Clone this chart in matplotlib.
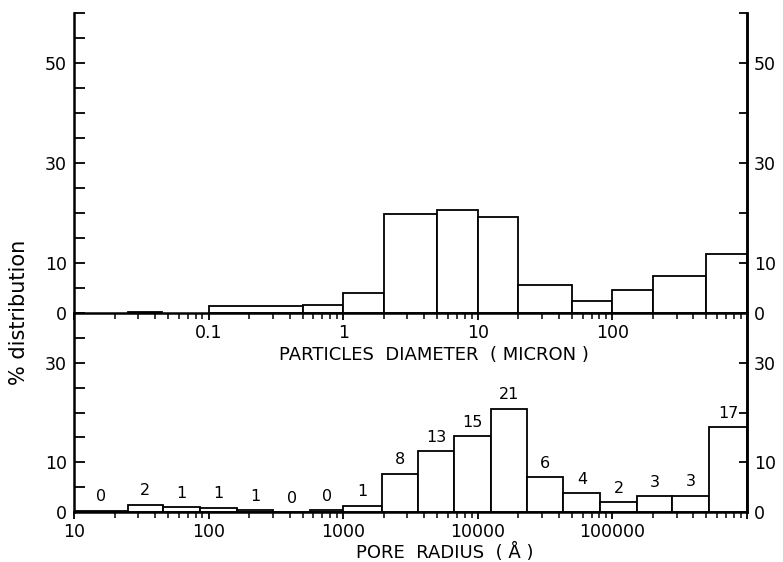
import matplotlib
matplotlib.use("Agg")
import matplotlib.pyplot as plt
from matplotlib.ticker import LogLocator, NullFormatter, FixedLocator, FixedFormatter

# ---- data: particle diameter distribution (top panel) ----
particle_left = [0.025, 0.1, 0.5, 1, 2, 5, 10, 20, 50, 100, 200, 500]
particle_right = [0.045, 0.5, 1, 2, 5, 10, 20, 50, 100, 200, 500, 1000]
particle_pct = [0.3, 1.4, 1.6, 4.0, 19.9, 20.7, 19.3, 5.6, 2.4, 4.6, 7.5, 11.8]

# ---- data: pore radius distribution (bottom panel) ----
pore_edges = [10, 25, 46, 86, 163, 302, 569, 1000, 1950, 3610, 6680, 12590,
              23300, 43200, 81500, 153000, 279000, 526000, 1000000]
pore_pct = [0.3, 1.5, 1.0, 0.9, 0.35, 0.0, 0.35, 1.3, 7.7, 12.3, 15.2, 20.8,
            7.0, 3.8, 2.0, 3.2, 3.3, 17.1]
pore_labels = ["0", "2", "1", "1", "1", "0", "0", "1", "8", "13", "15", "21",
               "6", "4", "2", "3", "3", "17"]

top_ticklabels = ["0.1", "1", "10", "100"]
top_ticks = [0.1, 1, 10, 100]
bottom_ticklabels = ["10", "100", "1000", "10000", "100000"]
bottom_ticks = [10, 100, 1000, 10000, 100000]

plt.rcParams['font.family'] = ['DejaVu Sans']
FS = 12.5
W, H = 783, 562
fig = plt.figure(figsize=(W / 100, H / 100), dpi=100)

L, R = 74 / W, 747 / W
y_top, y_mid, y_bot = 1 - 13 / H, 1 - 313 / H, 1 - 512 / H
ax1 = fig.add_axes([L, y_mid, R - L, y_top - y_mid])
ax2 = fig.add_axes([L, y_bot, R - L, y_mid - y_bot])

lw_sp = 1.8
for ax in (ax1, ax2):
    ax.set_xscale('log')
    ax.spines['top'].set_visible(False)
    for s in ('left', 'right', 'bottom'):
        ax.spines[s].set_linewidth(lw_sp)
    ax.patch.set_alpha(0)

# top panel bars
widths = [r - l for l, r in zip(particle_left, particle_right)]
ax1.bar(particle_left, particle_pct, width=widths, align='edge',
        facecolor='white', edgecolor='black', linewidth=1.3, zorder=2)
ax1.set_xlim(0.01, 1000)
ax1.set_ylim(0, 60)

# bottom panel bars
pw = [pore_edges[i + 1] - pore_edges[i] for i in range(len(pore_pct))]
ax2.bar(pore_edges[:-1], pore_pct, width=pw, align='edge',
        facecolor='white', edgecolor='black', linewidth=1.3, zorder=2)
ax2.set_xlim(10, 1000000)
ax2.set_ylim(0, 40)
for i, (h, lab) in enumerate(zip(pore_pct, pore_labels)):
    xc = (pore_edges[i] * pore_edges[i + 1]) ** 0.5
    ax2.annotate(lab, (xc, h), xytext=(0, 4.5), textcoords='offset points',
                 ha='center', va='bottom', fontsize=FS - 1)

# x ticks
ax1.xaxis.set_major_locator(FixedLocator(top_ticks + [0.01, 1000]))
ax1.xaxis.set_major_formatter(FixedFormatter(top_ticklabels + ["", ""]))
ax1.xaxis.set_minor_locator(LogLocator(base=10, subs=range(2, 10), numticks=20))
ax1.xaxis.set_minor_formatter(NullFormatter())
ax2.xaxis.set_major_locator(FixedLocator(bottom_ticks + [1000000]))
ax2.xaxis.set_major_formatter(FixedFormatter(bottom_ticklabels + [""]))
ax2.xaxis.set_minor_locator(LogLocator(base=10, subs=range(2, 10), numticks=20))
ax2.xaxis.set_minor_formatter(NullFormatter())
for ax in (ax1, ax2):
    ax.tick_params(axis='x', which='major', direction='out', length=5, width=1.3,
                   labelsize=FS, pad=3)
    ax.tick_params(axis='x', which='minor', direction='out', length=4, width=1.1)

# y ticks: left
ax1.set_yticks([0, 10, 30, 50])
ax1.set_yticks(list(range(0, 61, 5)), minor=True)
ax2.set_yticks([0, 10, 30])
ax2.set_yticks(list(range(0, 41, 5)), minor=True)
for ax in (ax1, ax2):
    ax.tick_params(axis='y', which='both', direction='in', length=8, width=1.3,
                   labelsize=FS, pad=5, left=True, right=False)

# right axes
ax1r = ax1.twinx()
ax1r.set_ylim(0, 60)
ax1r.set_yticks([0, 10, 30, 50])
ax1r.set_yticks(list(range(0, 61, 10)), minor=True)
ax2r = ax2.twinx()
ax2r.set_ylim(0, 40)
ax2r.set_yticks([0, 10, 30])
ax2r.set_yticks(list(range(0, 41, 10)), minor=True)
for ax in (ax1r, ax2r):
    for s in ('top', 'left', 'bottom'):
        ax.spines[s].set_visible(False)
    ax.spines['right'].set_linewidth(lw_sp)
    ax.tick_params(axis='y', which='both', direction='in', length=6, width=1.3,
                   labelsize=FS, pad=5)

# axis titles
fig.text(434 / W, 1 - 355 / H, "PARTICLES  DIAMETER  ( MICRON )", ha='center',
         va='center', fontsize=13)
fig.text(445 / W, 1 - 552 / H, "PORE  RADIUS  ( Å )", ha='center', va='center',
         fontsize=13)
fig.text(19 / W, 1 - 312 / H, "% distribution", rotation=90, ha='center',
         va='center', fontsize=15)

fig.savefig("out.png", dpi=100)
